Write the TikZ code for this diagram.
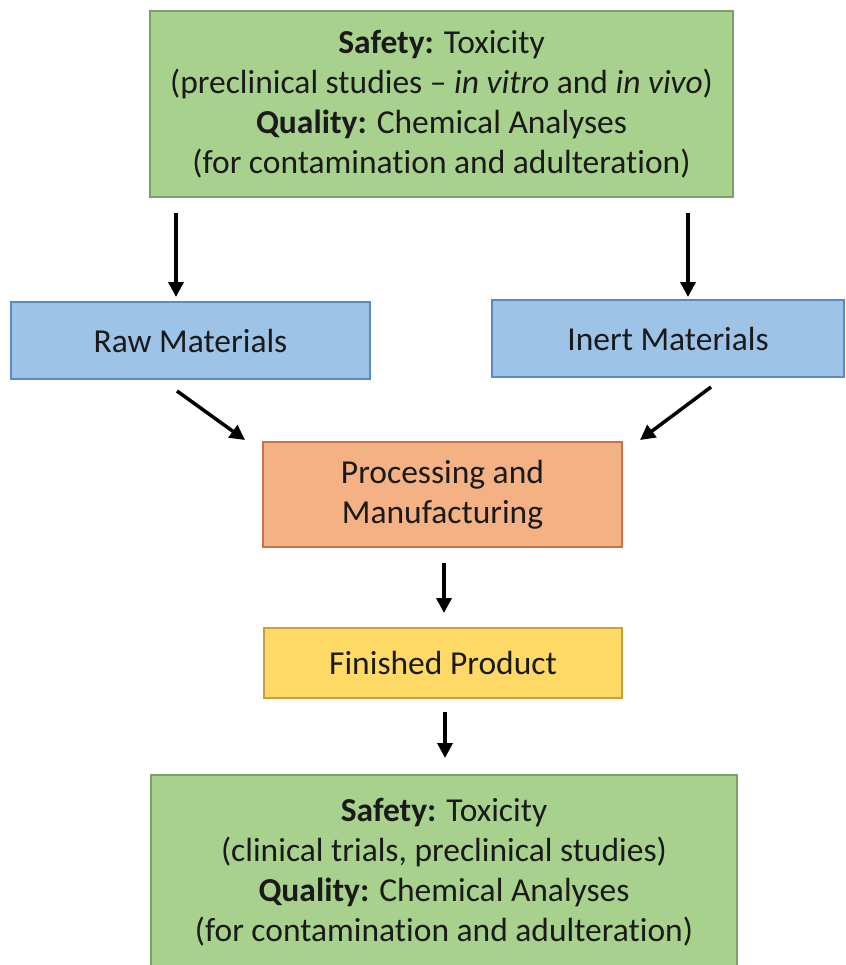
\documentclass[tikz,border=0pt]{standalone}
\usepackage{fontspec}
\setmainfont[Ligatures={NoCommon}]{Carlito}
\usetikzlibrary{arrows.meta}
\definecolor{gfill}{HTML}{A9D18E}
\definecolor{gdraw}{HTML}{7E9E68}
\definecolor{bfill}{HTML}{9DC3E6}
\definecolor{bdraw}{HTML}{5A88C8}
\definecolor{ofill}{HTML}{F4B183}
\definecolor{odraw}{HTML}{C8734A}
\definecolor{yfill}{HTML}{FFD966}
\definecolor{ydraw}{HTML}{C8A040}
\definecolor{txt}{HTML}{1A1A1A}
\begin{document}
\begin{tikzpicture}[x=1pt,y=-1pt,
  box/.style={draw, line width=1.5pt, inner sep=0pt, align=center, text=txt, font=\fontsize{33.5}{40}\selectfont},
  arr/.style={line width=3.5pt, -{Triangle[length=15pt,width=15pt]}}]
\useasboundingbox (0,0) rectangle (845,965);
\node[box, fill=gfill, draw=gdraw, minimum width=583, minimum height=186] (safety1) at (441.5,104)
  {\textbf{Safety:} Toxicity\\(preclinical studies – \textit{in vitro} and \textit{in vivo})\\\textbf{Quality:} Chemical Analyses\\(for contamination and adulteration)};
\node[box, fill=bfill, draw=bdraw, minimum width=359, minimum height=77] (raw) at (190.5,340.5) {Raw Materials};
\node[box, fill=bfill, draw=bdraw, minimum width=352, minimum height=77] (inert) at (668,338.5) {Inert Materials};
\node[box, fill=ofill, draw=odraw, minimum width=359, minimum height=105] (proc) at (442.5,494.5) {Processing and\\Manufacturing};
\node[box, fill=yfill, draw=ydraw, minimum width=358, minimum height=70] (fin) at (443,663) {Finished Product};
\node[box, fill=gfill, draw=gdraw, minimum width=586, minimum height=194] (safety2) at (444,872)
  {\textbf{Safety:} Toxicity\\(clinical trials, preclinical studies)\\\textbf{Quality:} Chemical Analyses\\(for contamination and adulteration)};
\coordinate (a1s) at (176,213); \coordinate (a1e) at (176,297);
\coordinate (a2s) at (688,213); \coordinate (a2e) at (688,297);
\coordinate (a3s) at (177,391); \coordinate (a3e) at (245,440);
\coordinate (a4s) at (711,387); \coordinate (a4e) at (640,440);
\coordinate (a5s) at (444,563); \coordinate (a5e) at (444,613);
\coordinate (a6s) at (445,712); \coordinate (a6e) at (445,758);
\draw[arr] (a1s) -- (a1e);
\draw[arr] (a2s) -- (a2e);
\draw[arr] (a3s) -- (a3e);
\draw[arr] (a4s) -- (a4e);
\draw[arr] (a5s) -- (a5e);
\draw[arr] (a6s) -- (a6e);
\end{tikzpicture}
\end{document}
